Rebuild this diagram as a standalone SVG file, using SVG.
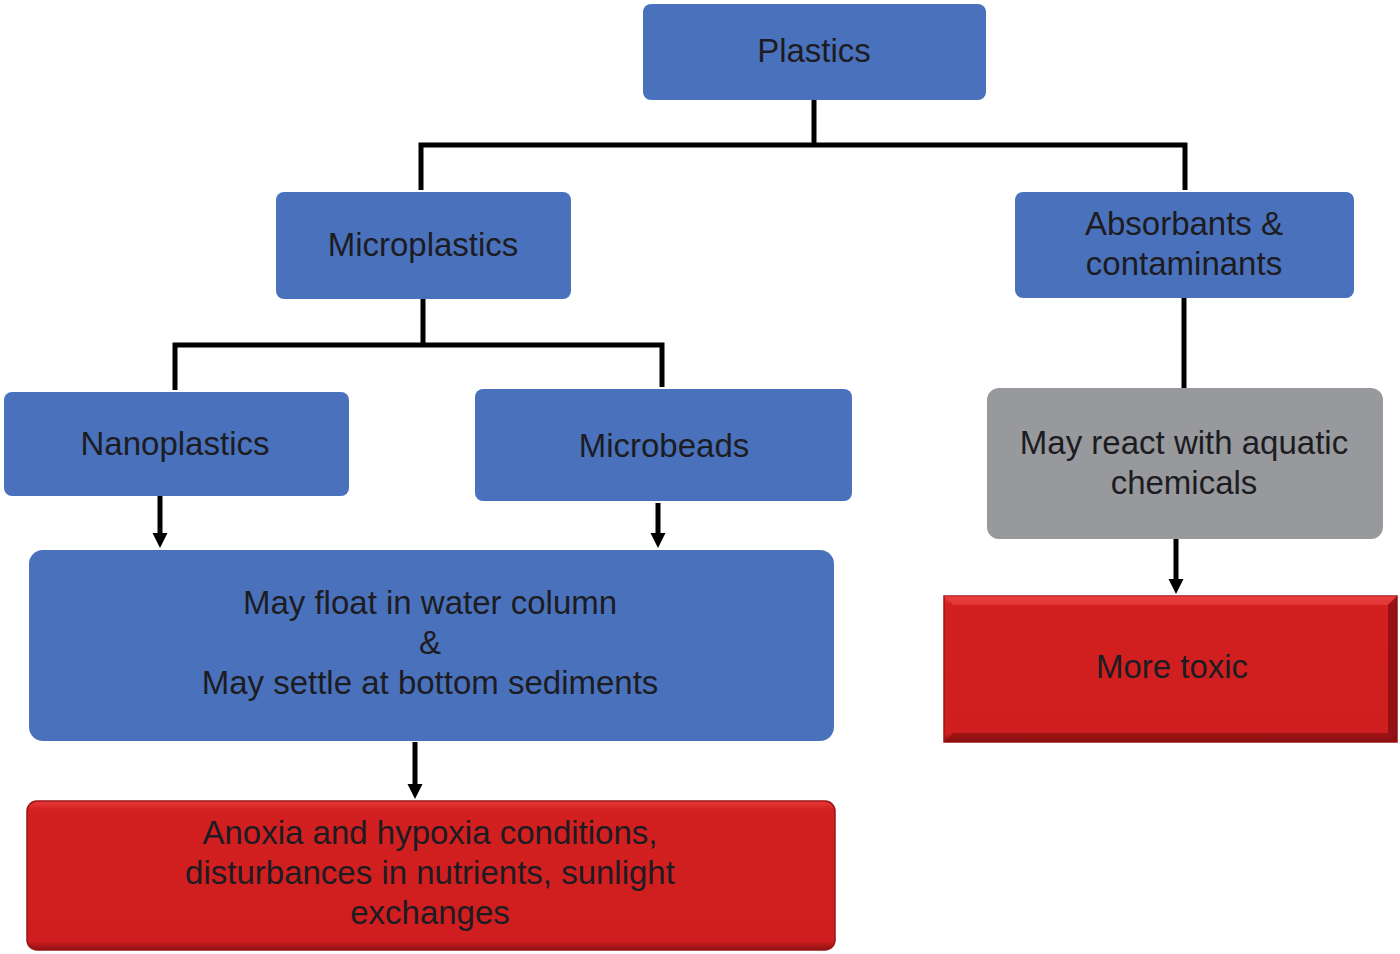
<svg xmlns="http://www.w3.org/2000/svg" width="1400" height="954" viewBox="0 0 1400 954">
<style>
.blue{fill:#4A72BC;}
.gray{fill:#97999C;}
.t{font-family:"Liberation Sans",Arial,sans-serif;font-size:33px;fill:#1c1c22;text-anchor:middle;}
.c{stroke:#000;stroke-width:5;fill:none;}
</style>
<defs>
<marker id="ah" markerWidth="16" markerHeight="16" refX="2" refY="8" orient="auto" markerUnits="userSpaceOnUse">
<path d="M0,0.5 L15,8 L0,15.5 Z" fill="#000"/>
</marker>
<linearGradient id="redg" x1="0" y1="0" x2="0" y2="1">
<stop offset="0" stop-color="#E83A3A"/>
<stop offset="0.06" stop-color="#D21F1F"/>
<stop offset="0.94" stop-color="#D01E20"/>
<stop offset="1" stop-color="#8E1012"/>
</linearGradient>
</defs>
<rect width="1400" height="954" fill="#fff"/>
<g id="connectors">
<path class="c" d="M814,100 V145 M421,190 V145 H1185 V190"/>
<path class="c" d="M423,299 V345 M175,390 V345 H662 V387"/>
<path class="c" d="M1184,298 V388"/>
<line class="c" x1="160" y1="494" x2="160" y2="535" marker-end="url(#ah)"/>
<line class="c" x1="658" y1="503" x2="658" y2="535" marker-end="url(#ah)"/>
<line class="c" x1="1176" y1="539" x2="1176" y2="581" marker-end="url(#ah)"/>
<line class="c" x1="415" y1="742" x2="415" y2="786" marker-end="url(#ah)"/>
</g>
<g id="plastics">
<rect class="blue" x="643" y="4" width="343" height="96" rx="8"/>
<text class="t" x="814" y="62">Plastics</text>
</g>
<g id="microplastics">
<rect class="blue" x="276" y="192" width="295" height="107" rx="8"/>
<text class="t" x="423" y="256">Microplastics</text>
</g>
<g id="absorbants">
<rect class="blue" x="1015" y="192" width="339" height="106" rx="8"/>
<text class="t" x="1184" y="235">Absorbants &amp;</text>
<text class="t" x="1184" y="275">contaminants</text>
</g>
<g id="nanoplastics">
<rect class="blue" x="4" y="392" width="345" height="104" rx="8"/>
<text class="t" x="175" y="455">Nanoplastics</text>
</g>
<g id="microbeads">
<rect class="blue" x="475" y="389" width="377" height="112" rx="8"/>
<text class="t" x="664" y="457">Microbeads</text>
</g>
<g id="react">
<rect class="gray" x="987" y="388" width="396" height="151" rx="12"/>
<text class="t" x="1184" y="454">May react with aquatic</text>
<text class="t" x="1184" y="494">chemicals</text>
</g>
<g id="float">
<rect class="blue" x="29" y="550" width="805" height="191" rx="14"/>
<text class="t" x="430" y="614">May float in water column</text>
<text class="t" x="430" y="654">&amp;</text>
<text class="t" x="430" y="694">May settle at bottom sediments</text>
</g>
<g id="toxic">
<rect x="944" y="596" width="453" height="146" fill="url(#redg)" stroke="#9A1416" stroke-width="1.5"/>
<path d="M944,596 L953,605 L1388,605 L1397,596 Z" fill="#E8403F" opacity="0.7"/>
<path d="M1397,596 L1388,605 L1388,733 L1397,742 Z" fill="#7A0C0E" opacity="0.7"/>
<path d="M944,742 L953,733 L1388,733 L1397,742 Z" fill="#8A0F10" opacity="0.7"/>
<text class="t" x="1172" y="678">More toxic</text>
</g>
<g id="anoxia">
<rect x="27" y="801" width="808" height="149" rx="10" fill="url(#redg)" stroke="#9A1416" stroke-width="1.5"/>
<text class="t" x="430" y="844">Anoxia and hypoxia conditions,</text>
<text class="t" x="430" y="884">disturbances in nutrients, sunlight</text>
<text class="t" x="430" y="924">exchanges</text>
</g>
</svg>
